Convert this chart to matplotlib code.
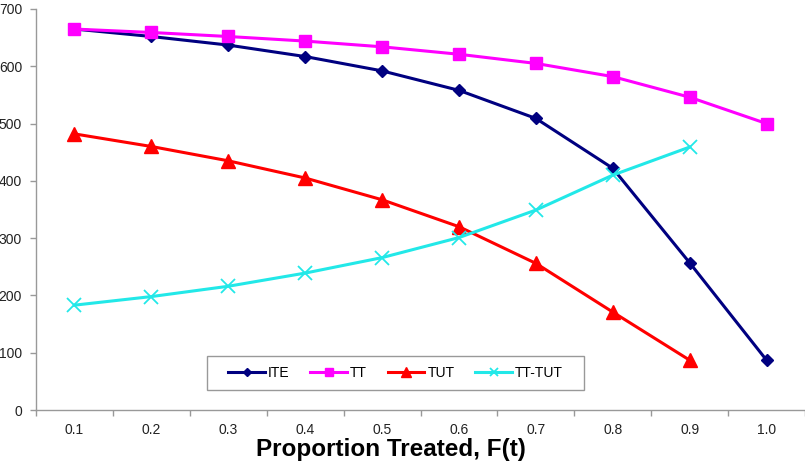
import matplotlib
matplotlib.use("Agg")
import matplotlib.pyplot as plt
from matplotlib.ticker import FixedLocator, NullFormatter
from matplotlib.patches import Rectangle

plt.rcParams['font.family'] = ['Liberation Sans', 'DejaVu Sans']

categories = ["0.1", "0.2", "0.3", "0.4", "0.5", "0.6", "0.7", "0.8", "0.9", "1.0"]
ite = [665, 652, 637, 617, 592, 558, 509, 422, 257, 87]
tt = [665, 659, 652, 644, 634, 621, 605, 582, 546, 500]
tut = [482, 460, 435, 405, 367, 320, 256, 171, 87]
tt_tut = [183, 198, 216, 239, 266, 301, 349, 410, 459]
yticks = [0, 100, 200, 300, 400, 500, 600, 700]

fig = plt.figure(figsize=(8.05, 4.65), dpi=100)
ax = fig.add_axes([36/805, 1-410/465, 1-36/805, (410-9)/465])

x = list(range(len(categories)))
lw = 2.2
ax.plot(x[:len(ite)], ite, color='#000080', lw=lw, marker='D', ms=6.5, label='ITE', zorder=3)
ax.plot(x[:len(tt)], tt, color='#FF00FF', lw=lw, marker='s', ms=9, label='TT', zorder=3)
ax.plot(x[:len(tut)], tut, color='#FF0000', lw=lw, marker='^', ms=10, label='TUT', zorder=3)
ax.plot(x[:len(tt_tut)], tt_tut, color='#22E8E8', lw=lw, marker='x', ms=9.5, mew=1.3, label='TT-TUT', zorder=3)

ax.set_xlim(-0.5, len(categories) - 0.5)
ax.set_ylim(0, 700)
ax.set_yticks(yticks)
ax.set_xticks(x)
ax.set_xticklabels(categories)
ax.xaxis.set_minor_locator(FixedLocator([i - 0.5 for i in range(len(categories) + 1)]))
ax.xaxis.set_minor_formatter(NullFormatter())
ax.tick_params(axis='x', which='major', length=0, pad=9, labelsize=10, labelcolor='#222222')
ax.tick_params(axis='x', which='minor', length=4, color='#999999', width=1)
ax.tick_params(axis='y', length=4, color='#999999', width=1, labelsize=10, labelcolor='#222222', pad=6)
for s in ['top', 'right']:
    ax.spines[s].set_visible(False)
for s in ['left', 'bottom']:
    ax.spines[s].set_color('#999999')
    ax.spines[s].set_linewidth(1)

fig.text(391/805, 1-456/465, 'Proportion Treated, F(t)', fontsize=17.5, fontweight='bold',
         ha='center', va='baseline')

# legend frame drawn explicitly
ax.add_patch(Rectangle((207/805, 1-390/465), (584-207)/805, (390-356)/465,
                       transform=fig.transFigure, facecolor='white',
                       edgecolor='#999999', lw=1, zorder=5, clip_on=False))
leg = ax.legend(loc='center', bbox_to_anchor=((207+584)/2/805, 1-(356+390)/2/465),
                bbox_transform=fig.transFigure, ncol=4, fontsize=10, frameon=False,
                handlelength=2.65, columnspacing=1.5, handletextpad=0.2,
                borderpad=0.3, markerscale=0.65)
leg.set_zorder(6)

fig.savefig('out.png', dpi=100)
